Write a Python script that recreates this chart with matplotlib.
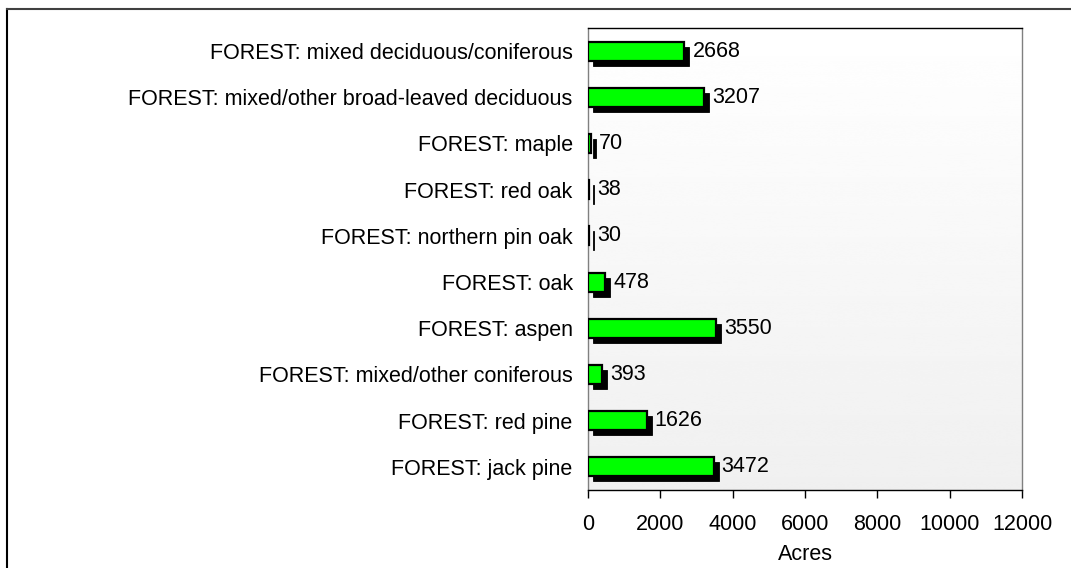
import numpy as np
import matplotlib
matplotlib.use('Agg')
import matplotlib.pyplot as plt
import matplotlib.transforms as mtransforms
from matplotlib.lines import Line2D

plt.rcParams['font.family'] = ['Liberation Sans', 'DejaVu Sans']

categories = ['FOREST: mixed deciduous/coniferous',
              'FOREST: mixed/other broad-leaved deciduous',
              'FOREST: maple',
              'FOREST: red oak',
              'FOREST: northern pin oak',
              'FOREST: oak',
              'FOREST: aspen',
              'FOREST: mixed/other coniferous',
              'FOREST: red pine',
              'FOREST: jack pine']
acres = [2668, 3207, 70, 38, 30, 478, 3550, 393, 1626, 3472]
xticks = [0, 2000, 4000, 6000, 8000, 10000, 12000]

fs = 15.5
fig = plt.figure(figsize=(10.71, 5.68), dpi=100)
ax = fig.add_axes([588/1071, 1 - 490/568, 434/1071, 462/568])

# vertical gradient background: white at top, light gray at bottom
grad = np.linspace(1.0, 0.94, 256).reshape(-1, 1)
ax.imshow(grad, cmap='gray', vmin=0, vmax=1, aspect='auto',
          extent=[0, 12000, 9.5, -0.5], zorder=0, interpolation='bicubic')

y = np.arange(len(categories))
shadow = ax.transData + mtransforms.ScaledTranslation(5/100, -5/100, fig.dpi_scale_trans)
ax.barh(y, acres, height=0.41, color='black', edgecolor='black', linewidth=0.6,
        transform=shadow, zorder=2)
ax.barh(y, acres, height=0.41, color='#00ff00', edgecolor='black', linewidth=1.6,
        zorder=3)

for yi, v in zip(y, acres):
    ax.annotate(str(v), (v, yi), xytext=(8, 0), textcoords='offset pixels',
                va='center', ha='left', fontsize=fs, zorder=4)

ax.set_xlim(0, 12000)
ax.set_ylim(9.5, -0.5)
ax.set_xticks(xticks)
ax.set_yticks(y)
ax.set_yticklabels(categories)
ax.tick_params(axis='y', length=0, pad=11, labelsize=fs)
ax.tick_params(axis='x', length=6, width=1, direction='out', pad=11, labelsize=fs)
ax.set_xlabel('Acres', fontsize=fs, labelpad=7)

ax.spines['left'].set_color('#808080')
ax.spines['right'].set_color('#808080')
ax.spines['top'].set_color('black')
ax.spines['bottom'].set_color('black')
for s in ax.spines.values():
    s.set_linewidth(1.0)

# outer frame (left and top edges)
fig.add_artist(Line2D([7/1071, 7/1071], [0, 1 - 9/568], color='black', lw=1.5,
                      transform=fig.transFigure))
fig.add_artist(Line2D([7/1071, 1], [1 - 9/568, 1 - 9/568], color='#404040', lw=1.5,
                      transform=fig.transFigure))

fig.savefig('out.png', dpi=100)
